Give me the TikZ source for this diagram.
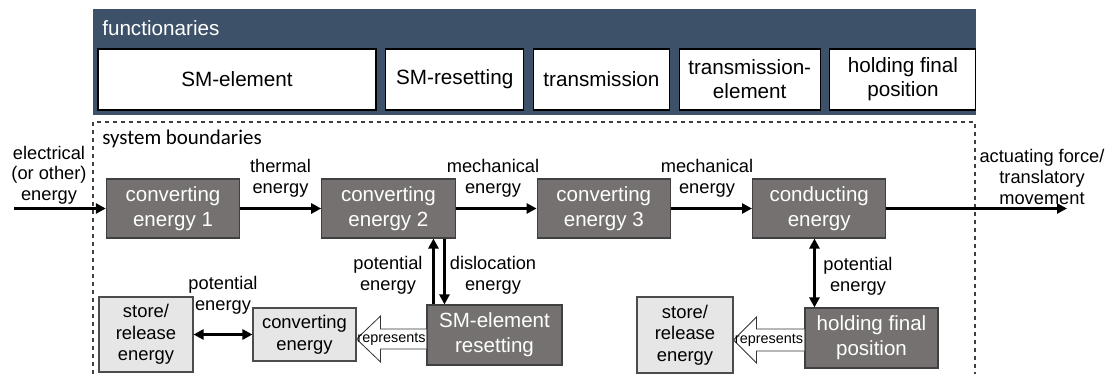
\documentclass[tikz,border=0pt]{standalone}
\usepackage{fontspec}
\setmainfont{Liberation Sans}
\newfontfamily\bndfont{Carlito}
\usetikzlibrary{arrows.meta,calc,positioning}
\definecolor{headblue}{HTML}{3D5168}
\definecolor{darkbox}{HTML}{767171}
\definecolor{lightbox}{HTML}{E7E6E6}
\tikzset{funcbox/.style={draw=black, fill=white, line width=0.8pt, minimum height=45.75pt, inner sep=2pt, align=center, font=\fontsize{15.5}{18}\selectfont}}
\tikzset{proc/.style={draw=black!75, fill=darkbox, text=white, line width=0.8pt, minimum width=100pt, minimum height=44.25pt, align=center, font=\fontsize{15.4}{18.5}\selectfont}}
\tikzset{aux/.style={draw=black!70, fill=lightbox, line width=0.8pt, align=center, font=\fontsize{13.8}{16.3}\selectfont}}
\tikzstyle{lbl}=[align=center, inner sep=0pt, font=\fontsize{13.7}{15.5}\selectfont]
\tikzstyle{flow}=[line width=2.2pt, -{Triangle[length=7.5pt,width=7.5pt]}]
\tikzstyle{flowboth}=[line width=2.2pt, {Triangle[length=7.5pt,width=7.5pt]}-{Triangle[length=7.5pt,width=7.5pt]}]
\tikzstyle{hollow}=[draw=black!80, fill=white, line width=0.6pt]

\begin{document}
\begin{tikzpicture}[x=0.75pt, y=-0.75pt]
\useasboundingbox (0,0) rectangle (1111,374);

\node[fill=headblue, minimum width=662.25pt, minimum height=79.5pt, inner sep=0pt] (func) at (534.5,62) {};
\node[anchor=west, inner sep=0pt, text=white, font=\fontsize{15.5}{18}\selectfont] (functxt) at (102,28) {functionaries};
\node[funcbox, minimum width=208.5pt] (fe1) at (237,79.5) {SM-element};
\node[funcbox, minimum width=103.5pt, right=6.5pt of fe1] (fe2) {SM-resetting};
\node[funcbox, minimum width=102pt, right=6.5pt of fe2] (fe3) {transmission};
\node[funcbox, minimum width=105.75pt, right=6.5pt of fe3] (fe4) {transmission-\\element};
\node[funcbox, minimum width=109.5pt, right=6.5pt of fe4] (fe5) {holding final\\position};

\draw[black!75, dashed, line width=0.8pt] (93,374) -- (93,122) -- (975,122) -- (975,374);
\node[anchor=west, inner sep=0pt, font=\bndfont\fontsize{15.7}{18}\selectfont] (bnd) at (102,139) {system boundaries};

\node[proc] (ce1) at (173,208.5) {converting\\energy 1};
\node[proc, right=60.75pt of ce1] (ce2) {converting\\energy 2};
\node[proc, right=60.75pt of ce2] (ce3) {converting\\energy 3};
\node[proc, right=60.75pt of ce3] (cond) {conducting\\energy};

\node[proc, minimum width=101.25pt, minimum height=45pt] (smr) at (494.5,335) {SM-element\\resetting};
\node[proc, minimum width=99.75pt, minimum height=45pt] (hold) at (871.5,338) {holding final\\position};
\node[aux, minimum width=77.25pt, minimum height=39.75pt] (conv) at (304.5,334.5) {converting\\energy};
\node[aux, minimum width=70.5pt, minimum height=56.25pt] (store1) at (146,334.5) {store/\\release\\energy};
\node[aux, minimum width=72pt, minimum height=57pt] (store2) at (685,335) {store/\\release\\energy};

\coordinate (src) at (14,208.5);
\coordinate (snk) at (1067,208.5);
\draw[flow] (src) -- (ce1);
\draw[flow] (ce1) -- (ce2);
\draw[flow] (ce2) -- (ce3);
\draw[flow] (ce3) -- (cond);
\draw[flow] (cond) -- (snk);

\node[lbl] (lin) at (49,175) {electrical\\(or other)\\energy};
\node[lbl] (lth) at (280.5,178) {thermal\\energy};
\node[lbl] (lm1) at (493,178) {mechanical\\energy};
\node[lbl] (lm2) at (707,178) {mechanical\\energy};
\node[lbl] (lout) at (1042,177) {actuating force/\\translatory\\movement};

\coordinate (up1) at ($(smr.north west)+(7,0)$);
\coordinate (dn1) at ($(smr.north west)+(18,0)$);
\draw[flow] (up1) -- (up1 |- ce2.south);
\draw[flow] (dn1 |- ce2.south) -- (dn1);
\node[lbl] (lpot1) at (388,275) {potential\\energy};
\node[lbl] (ldis) at (493,275) {dislocation\\energy};

\coordinate (hf1) at ($(hold.north west)+(10,0)$);
\draw[flowboth] (hf1 |- cond.south) -- (hf1);
\node[lbl] (lpot2) at (858,276) {potential\\energy};

\draw[flowboth] (store1) -- (conv);
\node[lbl] (lpot3) at (223,295) {potential\\energy};

\coordinate (r1) at ($(smr.west)+(0,4)$);
\coordinate (t1) at (conv.east |- r1);
\draw[hollow] ($(r1)+(0,-10)$) -| ($(t1)+(24,-23)$) -- (t1) -- ($(t1)+(24,23)$) |- ($(r1)+(0,10)$);
\node[inner sep=0pt, font=\fontsize{10.8}{12}\selectfont] (rep1) at ($(t1)!0.5!(r1)$) {represents};

\coordinate (r2) at ($(hold.west)+(0,2)$);
\coordinate (t2) at (store2.east |- r2);
\draw[hollow] ($(r2)+(0,-11)$) -| ($(t2)+(23,-23)$) -- (t2) -- ($(t2)+(23,23)$) |- ($(r2)+(0,11)$);
\node[inner sep=0pt, font=\fontsize{10.8}{12}\selectfont] (rep2) at ($(t2)!0.5!(r2)$) {represents};
\end{tikzpicture}
\end{document}
